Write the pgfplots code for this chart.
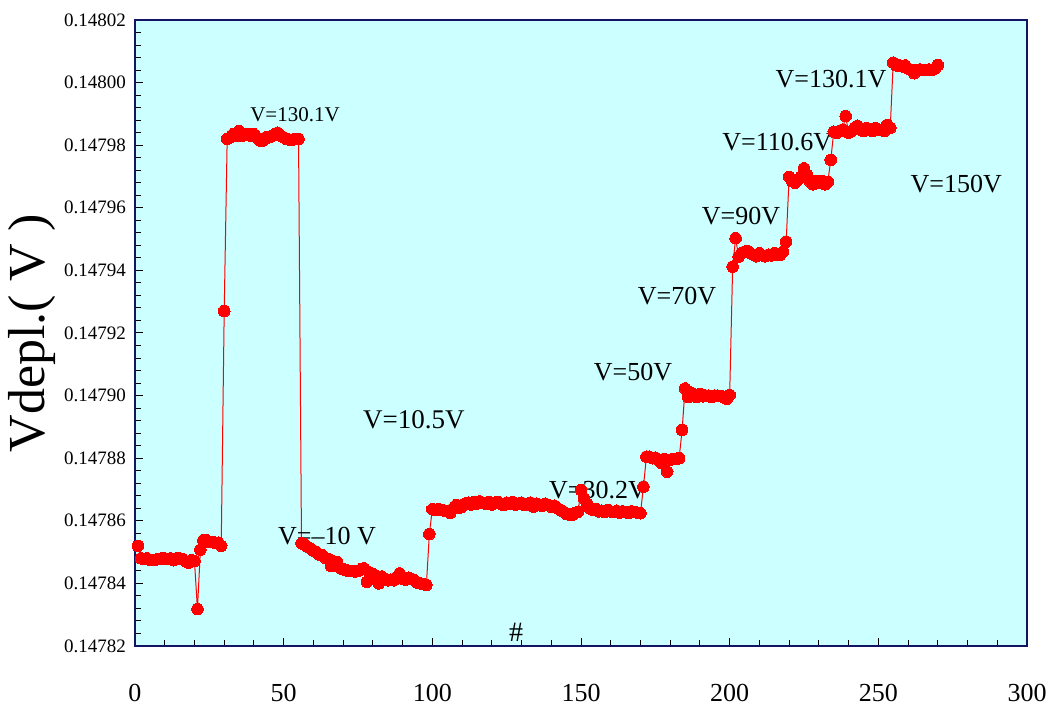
\documentclass[border=0pt]{standalone}
\usepackage{fontspec}
\setmainfont{Liberation Serif}
\usepackage{pgfplots}
\pgfplotsset{compat=1.18}
\definecolor{bgcyan}{RGB}{204,255,255}
\definecolor{axnavy}{RGB}{20,20,100}
\begin{document}
\begin{tikzpicture}
\begin{axis}[
  scale only axis, width=446pt, height=313pt,
  xmin=0, xmax=300, ymin=0, ymax=20,
  xtick={0,50,...,300}, minor x tick num=4,
  ytick={0,2,...,20},
  yticklabels={0.14782,0.14784,0.14786,0.14788,0.14790,0.14792,0.14794,0.14796,0.14798,0.14800,0.14802},
  minor y tick num=4,
  tick align=inside, xtick pos=left, ytick pos=left,
  axis background/.style={fill=bgcyan},
  axis line style={axnavy, line width=0.6pt},
  tick style={black, line width=0.5pt},
  major tick length=4pt, minor tick length=2.8pt,
  /pgf/number format/assume math mode=true,
  xticklabel style={font=\fontsize{13}{15}\selectfont, anchor=center, yshift=-23.5pt},
  yticklabel style={font=\fontsize{9.5}{11}\selectfont, anchor=east, xshift=-1pt},
  ylabel={Vdepl.( V )},
  ylabel style={font=\fontsize{26}{30}\selectfont, at={(axis description cs:-0.1155,0.5)}, anchor=center},
]
\addplot[red, line width=0.5pt, mark=*, mark size=2.9pt, mark options={fill=red, draw=red, line width=0pt}] table {
x y
1 3.20
2 2.80
3 2.78
4 2.80
5 2.76
6 2.75
7 2.76
8 2.78
9 2.80
10 2.80
11 2.78
12 2.80
13 2.74
14 2.80
15 2.80
16 2.78
17 2.70
18 2.66
19 2.74
20 2.72
21 1.18
22 3.08
23 3.38
24 3.38
25 3.32
26 3.32
27 3.30
28 3.30
29 3.20
30 10.70
31 16.20
32 16.25
33 16.35
34 16.30
35 16.45
36 16.30
37 16.35
38 16.35
39 16.30
40 16.35
41 16.25
42 16.15
43 16.15
44 16.25
45 16.25
46 16.30
47 16.35
48 16.40
49 16.30
50 16.25
51 16.20
52 16.18
53 16.18
54 16.20
55 16.20
56 3.28
57 3.25
58 3.17
59 3.12
60 3.05
61 3.00
62 2.92
63 2.90
64 2.82
65 2.78
66 2.55
67 2.70
68 2.68
69 2.50
70 2.45
71 2.42
72 2.40
73 2.40
74 2.38
75 2.40
76 2.45
77 2.48
78 2.05
79 2.35
80 2.30
81 2.25
82 2.00
83 2.22
84 2.15
85 2.10
86 2.12
87 2.10
88 2.20
89 2.32
90 2.15
91 2.12
92 2.18
93 2.15
94 2.10
95 2.02
96 2.00
97 1.98
98 1.95
99 3.58
100 4.37
101 4.35
102 4.37
103 4.35
104 4.33
105 4.30
106 4.25
107 4.40
108 4.50
109 4.42
110 4.45
111 4.55
112 4.58
113 4.52
114 4.60
115 4.55
116 4.62
117 4.58
118 4.55
119 4.60
120 4.52
121 4.58
122 4.60
123 4.55
124 4.50
125 4.58
126 4.55
127 4.60
128 4.52
129 4.55
130 4.58
131 4.50
132 4.55
133 4.58
134 4.45
135 4.55
136 4.52
137 4.48
138 4.55
139 4.50
140 4.45
141 4.48
142 4.40
143 4.35
144 4.30
145 4.22
146 4.20
147 4.19
148 4.25
149 4.29
150 4.98
151 4.72
152 4.55
153 4.40
154 4.35
155 4.38
156 4.30
157 4.32
158 4.28
159 4.35
160 4.30
161 4.28
162 4.32
163 4.26
164 4.30
165 4.28
166 4.25
167 4.30
168 4.28
169 4.26
170 4.24
171 5.09
172 6.05
173 6.05
174 6.00
175 6.02
176 5.95
177 5.85
178 5.98
179 5.57
180 5.95
181 5.98
182 5.98
183 6.00
184 6.90
185 8.23
186 7.95
187 8.10
188 8.00
189 7.95
190 8.05
191 7.98
192 8.00
193 8.00
194 7.95
195 8.00
196 8.00
197 7.98
198 7.95
199 7.90
200 8.02
201 12.12
202 13.03
203 12.44
204 12.55
205 12.60
206 12.62
207 12.55
208 12.50
209 12.45
210 12.55
211 12.48
212 12.45
213 12.50
214 12.48
215 12.55
216 12.50
217 12.50
218 12.60
219 12.92
220 14.99
221 14.85
222 14.80
223 14.90
224 15.00
225 15.26
226 15.05
227 14.85
228 14.75
229 14.85
230 14.80
231 14.85
232 14.75
233 14.83
234 15.53
235 16.43
236 16.40
237 16.45
238 16.50
239 16.93
240 16.40
241 16.45
242 16.55
243 16.62
244 16.50
245 16.45
246 16.55
247 16.50
248 16.45
249 16.55
250 16.50
251 16.48
252 16.45
253 16.65
254 16.55
255 18.64
256 18.55
257 18.55
258 18.52
259 18.55
260 18.45
261 18.40
262 18.30
263 18.40
264 18.42
265 18.40
266 18.40
267 18.42
268 18.40
269 18.45
270 18.56
};
\node[font=\fontsize{10.5}{12}\selectfont, anchor=base] at (axis cs:53.8,16.75) {V=130.1V};
\node[font=\fontsize{13}{15}\selectfont] at (axis cs:64.6,3.51) {V=--10 V};
\node[font=\fontsize{13.5}{15}\selectfont] at (axis cs:93.8,7.22) {V=10.5V};
\node[font=\fontsize{14}{16}\selectfont] at (axis cs:128.2,0.45) {\#};
\node[font=\fontsize{13}{15}\selectfont] at (axis cs:155.7,4.98) {V=30.2V};
\node[font=\fontsize{13}{15}\selectfont] at (axis cs:167.5,8.75) {V=50V};
\node[font=\fontsize{13}{15}\selectfont] at (axis cs:182.3,11.18) {V=70V};
\node[font=\fontsize{13}{15}\selectfont] at (axis cs:203.8,13.74) {V=90V};
\node[font=\fontsize{13}{15}\selectfont] at (axis cs:216,16.1) {V=110.6V};
\node[font=\fontsize{13}{15}\selectfont] at (axis cs:234.1,18.11) {V=130.1V};
\node[font=\fontsize{13}{15}\selectfont] at (axis cs:276.2,14.76) {V=150V};
\end{axis}
\pgfresetboundingbox
\path ([shift={(-67.5pt,-32.5pt)}]current axis.south west) rectangle ([shift={(12.5pt,10pt)}]current axis.north east);
\end{tikzpicture}
\end{document}
